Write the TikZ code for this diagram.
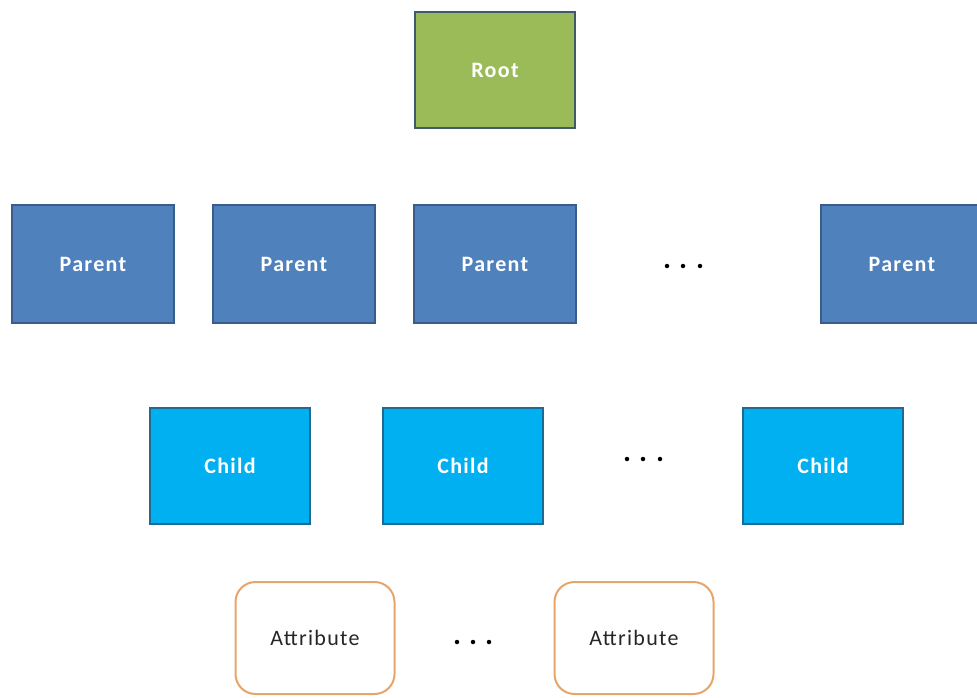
\documentclass[tikz,border=0pt]{standalone}
\usepackage{fontspec}
\setmainfont{Carlito}[LetterSpace=6]
\definecolor{rootfill}{HTML}{9BBB59}
\definecolor{rootline}{HTML}{3F5A6A}
\definecolor{parentfill}{HTML}{4F81BD}
\definecolor{parentline}{HTML}{385D8A}
\definecolor{childfill}{HTML}{00B0F0}
\definecolor{childline}{HTML}{1F6A94}
\definecolor{attrline}{HTML}{E8A569}
\definecolor{attrtext}{HTML}{262626}
\begin{document}
\begin{tikzpicture}[x=1pt,y=-1pt,
  box/.style={draw,line width=2pt,inner sep=0pt,
    font=\fontsize{22}{26}\selectfont\bfseries,text=white},
  rootbox/.style={box,fill=rootfill,draw=rootline,minimum width=160pt,minimum height=116pt},
  parentbox/.style={box,fill=parentfill,draw=parentline,minimum width=162pt,minimum height=118pt},
  childbox/.style={box,fill=childfill,draw=childline,minimum width=160pt,minimum height=116pt},
  attrbox/.style={draw=attrline,line width=2pt,rounded corners=20pt,fill=white,
    minimum width=159pt,minimum height=112pt,inner sep=0pt,
    font=\fontsize{22}{26}\selectfont,text=attrtext},
  dot/.style={circle,fill=black,inner sep=0pt,minimum size=4.5pt}]
\useasboundingbox (0,0) rectangle (977,698);
\fill[white] (0,0) rectangle (977,698);

% root
\node[rootbox] (root) at (495,70) {Root};

% parents
\node[parentbox] (p1) at (93,264) {Parent};
\node[parentbox] (p2) at (294,264) {Parent};
\node[parentbox] (p3) at (495,264) {Parent};
\node[dot] (pd1) at (667,266) {};
\node[dot] (pd2) at (683,266) {};
\node[dot] (pd3) at (700,266) {};
\node[parentbox] (p4) at (902,264) {Parent};

% children
\node[childbox] (c1) at (230,466) {Child};
\node[childbox] (c2) at (463,466) {Child};
\node[dot] (cd1) at (627,459) {};
\node[dot] (cd2) at (643,459) {};
\node[dot] (cd3) at (660,459) {};
\node[childbox] (c3) at (823,466) {Child};

% attributes
\node[attrbox] (a1) at (315,638) {Attribute};
\node[dot] (ad1) at (457,642) {};
\node[dot] (ad2) at (473,642) {};
\node[dot] (ad3) at (489,642) {};
\node[attrbox] (a2) at (634,638) {Attribute};
\end{tikzpicture}
\end{document}
